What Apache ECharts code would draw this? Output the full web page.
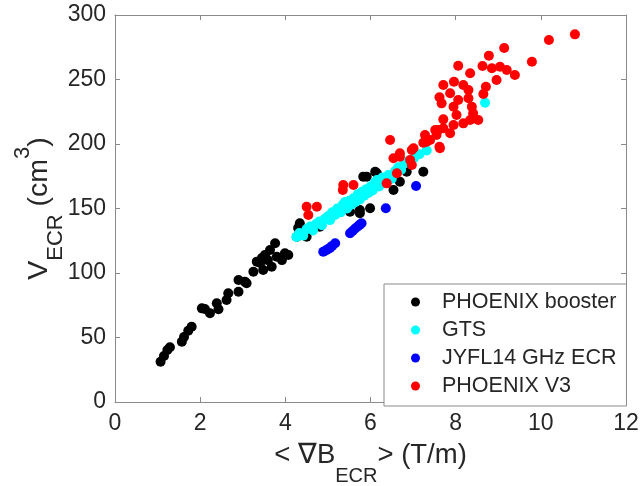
<!DOCTYPE html>
<html><head><meta charset="utf-8">
<script src="https://cdn.jsdelivr.net/npm/echarts@6/dist/echarts.min.js"></script>
<style>html,body{margin:0;padding:0;background:#fff}#c{width:640px;height:486px}</style>
</head><body><div id="c"></div>
<script>
const seriesNames = ['PHOENIX booster', 'GTS', 'JYFL14 GHz ECR', 'PHOENIX V3'];
const xTicks = [0, 2, 4, 6, 8, 10, 12];
const yTicks = [0, 50, 100, 150, 200, 250, 300];

const phoenixBooster = [
  [1.07,31.2],[1.15,35.7],[1.23,40.3],[1.29,42.4],[1.57,46.7],[1.62,50.4],[1.72,55.3],[1.80,58.4],
  [2.04,72.6],[2.11,72.1],[2.23,68.8],[2.39,76.5],[2.43,71.9],[2.62,79.1],[2.66,84.3],[2.90,85.5],
  [2.90,94.6],[3.09,92.0],[3.05,93.3],[3.25,101],[3.33,108.8],[3.41,107.8],[3.48,102.3],[3.52,114],
  [3.59,110],[3.68,104.9],[3.76,123],[3.80,112.6],[3.92,110],[4.07,114],[3.99,115.3],[3.45,111.6],
  [3.64,117.8],[4.27,128.1],[4.34,138.5],[4.30,134.9],[4.50,128.1],[4.58,134.7],[4.81,135.9],
  [5.52,147.5],[5.75,148.8],[5.99,150.2],[5.75,146.3],[5.83,174.7],[5.91,174.7],[6.15,177.3],
  [6.11,178.5],[6.54,164.3],[6.69,170.8],[6.85,178.5],[7.24,178.5]
];
const gts = [
  [4.26,128],[4.33,131],[4.42,129],[4.50,134],[4.58,136],[4.65,133],[4.72,138],[4.80,140],
  [4.86,137],[4.93,142],[5.00,144],[5.05,141],[5.10,147],[5.17,145],[5.22,150],[5.30,147],
  [5.35,153],[5.40,155],[5.45,150],[5.50,156],[5.55,153],[5.60,158],[5.65,155],[5.70,161],
  [5.75,157],[5.80,163],[5.85,160],[5.90,165],[5.95,162],[6.00,167],[6.05,164],[6.10,170],
  [6.15,172],[6.20,167],[6.28,174],[6.35,171],[6.42,176],[6.50,173],[6.58,179],[6.65,182],
  [6.72,180],[6.80,185],[6.90,187],[7.02,189],[7.15,192],[7.32,195],[8.69,232]
];
const jyfl14 = [
  [4.89,116.5],[4.95,117.5],[5.00,118.5],[5.05,119.5],[5.10,121],[5.17,123],
  [5.52,130.8],[5.58,132.5],[5.64,134.5],[5.70,136],[5.75,137.5],[5.79,138.5],
  [6.36,150.2],[7.07,167.4]
];
const phoenixV3 = [
  [10.80,285.0],[10.19,280.6],[9.79,263.8],[9.14,274.4],[8.78,268.5],[8.63,260.5],[8.06,260.7],
  [8.34,254.8],[8.85,258.7],[9.04,259.9],[9.20,257.4],[9.39,253.5],[8.96,249.6],[8.71,244.4],
  [8.65,238.8],[7.71,245.7],[7.96,248.3],[8.18,245.7],[8.30,241.9],[7.87,239.3],[7.62,236.2],
  [7.67,231.5],[8.06,234.1],[7.95,228.9],[8.30,235.4],[8.38,228.9],[8.41,223.8],[8.02,222.5],
  [7.71,219.1],[8.53,218.6],[8.34,218.6],[8.18,216.0],[7.95,214.7],[7.71,212.2],[7.52,210.9],
  [7.28,207.0],[7.55,207.0],[7.40,203.1],[7.24,201.0],[7.01,196.7],[7.62,197.9],
  [6.46,203.1],[6.54,188.9],[6.69,192.8],[6.97,195.3],[6.93,187.6],[6.97,183.7],[6.62,177.3],
  [6.38,169.5],[5.60,168.2],[5.36,168.2],[5.35,164.3],[7.32,201.8],[7.59,210.9],[7.87,208.3],
  [7.63,196.7],[4.74,151.4],[4.50,151.4],[4.54,145.0],[6.69,190.2]
];

const colors = ['#000000', '#00ffff', '#0000ff', '#ff0000'];
const datasets = [phoenixBooster, gts, jyfl14, phoenixV3];
const font = '"Liberation Sans", Arial, Helvetica, sans-serif';
const axisCol = '#8a8a8a';
const txtCol = '#262626';

const chart = echarts.init(document.getElementById('c'));
const gridPos = {left: 115, right: 14, top: 15, bottom: 84, containLabel: false, outerBoundsMode: 'none'};
function xAx(pos, labels) {
  return {
    type: 'value', position: pos, min: xTicks[0], max: xTicks[xTicks.length-1], interval: 2,
    axisLine: {show: true, onZero: false, lineStyle: {color: axisCol, width: 1}},
    axisTick: {show: true, inside: true, length: 5, lineStyle: {color: axisCol}},
    axisLabel: {show: labels, fontSize: 23, color: txtCol, fontFamily: font, margin: 10},
    splitLine: {show: false}
  };
}
function yAx(pos, labels) {
  return {
    type: 'value', position: pos, min: yTicks[0], max: yTicks[yTicks.length-1], interval: 50,
    axisLine: {show: true, onZero: false, lineStyle: {color: axisCol, width: 1}},
    axisTick: {show: true, inside: true, length: 5, lineStyle: {color: axisCol}},
    axisLabel: {show: labels, fontSize: 23, color: txtCol, fontFamily: font, margin: 9},
    splitLine: {show: false}
  };
}
const xb = xAx('bottom', true);
xb.name = '< ∇B{sub|ECR}> (T/m)';
xb.nameLocation = 'middle';
xb.nameGap = 23;
xb.nameMoveOverlap = false;
xb.nameTextStyle = {fontSize: 27.5, color: txtCol, fontFamily: font, lineHeight: 61,
  rich: {sub: {fontSize: 20, color: txtCol, fontFamily: font, verticalAlign: 'bottom', lineHeight: 20}}};
const yl = yAx('left', true);
yl.name = 'V{sub|ECR} (cm{sup|3})';
yl.nameLocation = 'middle';
yl.nameGap = 48;
yl.nameRotate = 90;
yl.nameMoveOverlap = false;
yl.nameTextStyle = {fontSize: 28.5, color: txtCol, fontFamily: font, lineHeight: 55,
  rich: {sub: {fontSize: 22, color: txtCol, fontFamily: font, verticalAlign: 'bottom', lineHeight: 38},
         sup: {fontSize: 22, color: txtCol, fontFamily: font, verticalAlign: 'top', lineHeight: 26}}};

const option = {
  backgroundColor: '#fff',
  animation: false,
  grid: gridPos,
  xAxis: [xb, xAx('top', false)],
  yAxis: [yl, yAx('right', false)],
  legend: {
    orient: 'vertical', left: 384, top: 284,
    padding: [7, 10, 9, 27],
    backgroundColor: '#fff', borderColor: axisCol, borderWidth: 1, borderRadius: 0,
    itemWidth: 9, itemHeight: 9, itemGap: 6,
    icon: 'circle',
    textStyle: {fontSize: 21.5, color: txtCol, fontFamily: font, lineHeight: 21, padding: [0,0,0,17]},
    data: seriesNames
  },
  series: datasets.map((d, i) => ({
    name: seriesNames[i], type: 'scatter', xAxisIndex: 0, yAxisIndex: 0,
    data: d, symbol: 'circle', symbolSize: 10,
    itemStyle: {color: colors[i], opacity: 1}, z: 2 + i
  }))
};
chart.setOption(option);
</script></body></html>
